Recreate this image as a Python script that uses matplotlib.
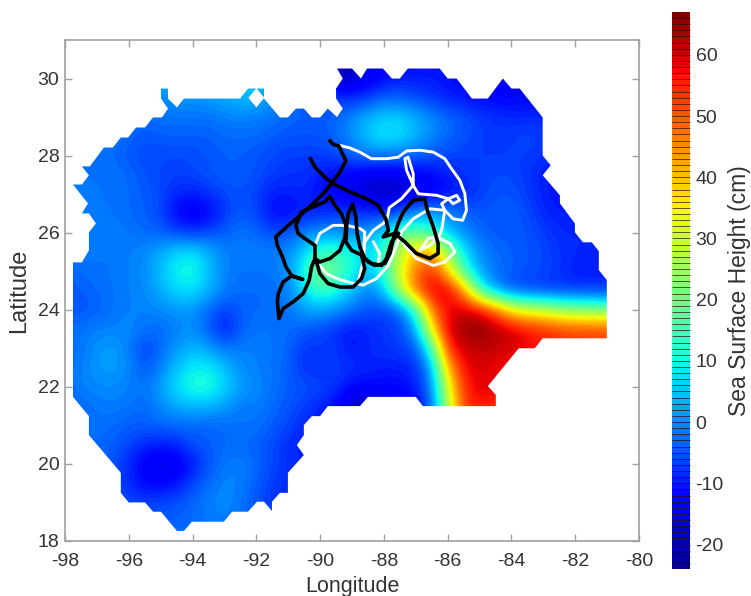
import numpy as np
import matplotlib
matplotlib.use("Agg")
import matplotlib.pyplot as plt
from matplotlib.colors import BoundaryNorm
from matplotlib.patches import PathPatch
from matplotlib.path import Path

plt.rcParams["font.family"] = ["Liberation Sans", "DejaVu Sans"]
plt.rcParams["axes.unicode_minus"] = False

# sea surface height (cm), 0.5 degree steps
grid_lons = np.arange(-98, -80.5, 0.5)
grid_lats = np.arange(30.5, 17.5, -0.5)
ssh = [
    [-2,-2,-2,-2,-2,-2,-1,0,1,1,2,3,2,0,-3,-8, -14,-20,-20,-16,-14,-13,-12,-12,-12, -12,-12,-12,-12,-12,-12,-12,-12,-12,-12],  # 30.5
    [-2,-2,-2,-2,-2,-1,5,5,2,3,4,6,6,0,-3,-8, -14,-19,-18,-15,-12,-10,-10,-10,-11, -12,-12,-12,-12,-12,-12,-12,-12,-12,-12],  # 30
    [-2,-2,-2,-2,-2,-1,0,1,1,2,3,4,4,1,-2,-5, -7,-8,-9,-7,-4,-4,-6,-8,-10, -11,-12,-13,-13,-12,-12,-12,-12,-12,-12],  # 29.5
    [-2,-2,-2,-2,-3,-3,-2,-2,-2,-2,-1,0,-1,-2,-3,-4, -4,-3,0,4,6,6,3,0,-3, -5,-7,-8,-9,-9,-9,-9,-9,-9,-9],  # 29
    [-2,-2,-2,-2,-3,-5,-4,-4,-4,-4,-3,-3,-3,-4,-5,-5, -5,-3,1,6,9,8,4,0,-3, -5,-7,-8,-7,-6,-7,-8,-8,-8,-8],  # 28.5
    [-2,-2,-2,-3,-5,-6,-6,-6,-6,-5,-4,-4,-5,-6,-7,-7, -7,-6,-3,-1,-1,-2,-3,-5,-6, -7,-7,-7,-7,-7,-8,-9,-9,-9,-9],  # 28
    [-2,-2,-2,-2,-3,-5,-6,-7,-6,-5,-4,-4,-5,-7,-8,-8, -10,-12,-14,-16,-16,-15,-14,-12,-10, -8,-7,-6,-6,-8,-10,-10,-10,-10,-10],  # 27.5
    [-2,-2,-2,-2,-3,-4,-6,-9,-10,-8,-6,-5,-7,-10,-10,-9, -12,-13,-15,-17,-19,-18,-16,-14,-12, -9,-7,-5,-5,-7,-10,-11,-11,-11,-11],  # 27
    [-1,-1,-2,-2,-3,-4,-6,-13,-15,-13,-8,-4,-6,-12,-12,-10, -9,-8,-8,-9,-9,-4,1,3,0, -3,-5,-4,-4,-6,-9,-10,-10,-10,-10],  # 26.5
    [-2,-1,-1,-1,-2,-3,-4,-6,-8,-6,-4,-2,-3,-6,-5,-1, 1,1,0,2,7,18,17,12,5, 0,-3,-5,-4,-5,-7,-9,-9,-9,-9],  # 26
    [-1,-1,-2,-2,-1,0,3,7,8,4,-1,-1,-1,-1,0,6, 14,14,10,8,13,30,40,44,24, 8,0,-3,-4,-5,-6,-8,-9,-9,-9],  # 25.5
    [-4,-3,-2,-2,-1,0,5,10,11,5,-1,-2,-2,-2,1,12, 23,19,10,4,13,32,48,54,38, 13,2,-2,-4,-5,-6,-8,-10,-10,-10],  # 25
    [-5,-4,-3,-2,-1,0,3,7,8,4,-1,-3,-3,-3,-1,8, 15,11,5,-1,6,28,50,60,60, 44,12,0,-6,-7,-8,-8,-8,-8,-8],  # 24.5
    [-5,-5,-4,-2,-1,-1,0,1,1,-3,-7,-4,-3,-3,-2,2, 3,1,-2,-5,-6,-3,14,48,58, 60,58,48,35,30,28,24,22,21,20],  # 24
    [-3,-2,-1,-1,0,-2,-3,-1,0,-4,-11,-4,-2,-2,-3,-4, -6,-8,-11,-9,-8,-6,3,37,60, 65,66,63,60,57,55,53,52,52,52],  # 23.5
    [-3,-2,1,2,-1,-7,-3,1,4,2,-2,-1,-1,-2,-3,-8, -7,-8,-11,-9,-8,-7,-5,15,55, 60,62,61,60,58,55,54,53,53,53],  # 23
    [-3,-1,1,2,0,-5,-1,5,9,9,5,0,-1,-2,-4,-9, -8,-7,-8,-9,-10,-10,-8,3,42, 58,59,58,56,55,54,54,54,54,54],  # 22.5
    [-3,-1,0,0,-1,-2,2,8,12,12,7,2,0,-2,-4,-5, -6,-8,-12,-12,-12,-12,-10,0,32, 55,60,58,56,55,54,54,54,54,54],  # 22
    [-4,-3,-2,-1,-2,-3,0,3,4,4,2,-2,-1,-3,-5,-7, -9,-12,-19,-19,-17,-15,-13,-2,28, 53,56,55,55,55,55,55,55,55,55],  # 21.5
    [-4,-3,-2,-3,-4,-4,-3,-3,-3,-4,-3,-2,-2,-4,-6,-9, -11,-14,-14,-14,-14,-14,-14,-5,25, 50,50,50,50,50,50,50,50,50,50],  # 21
    [-4,-4,-3,-4,-6,-9,-10,-9,-5,-4,-3,-3,-4,-6,-9,-10, -10,-10,-10,-10,-10,-10,-10,-10,-10, -10,-10,-10,-10,-10,-10,-10,-10,-10,-10],  # 20.5
    [-4,-4,-3,-5,-9,-14,-16,-15,-11,-5,-2,-1,-3,-6,-8,-9, -9,-9,-9,-9,-9,-9,-9,-9,-9, -9,-9,-9,-9,-9,-9,-9,-9,-9,-9],  # 20
    [-4,-4,-4,-5,-9,-12,-13,-11,-6,-3,0,-1,-4,-7,-9,-9, -9,-9,-9,-9,-9,-9,-9,-9,-9, -9,-9,-9,-9,-9,-9,-9,-9,-9,-9],  # 19.5
    [-4,-4,-4,-5,-6,-7,-6,-5,-3,-1,0,-2,-5,-8,-9,-9, -9,-9,-9,-9,-9,-9,-9,-9,-9, -9,-9,-9,-9,-9,-9,-9,-9,-9,-9],  # 19
    [-3,-3,-3,-3,-4,-4,-4,-4,-3,-2,-1,-2,-4,-6,-7,-7, -7,-7,-7,-7,-7,-7,-7,-7,-7, -7,-7,-7,-7,-7,-7,-7,-7,-7,-7],  # 18.5
    [-2,-2,-2,-2,-2,-2,-2,-2,-2,-2,-2,-2,-2,-2,-2,-4, -4,-4,-4,-4,-4,-4,-4,-4,-4, -4,-4,-4,-4,-4,-4,-4,-4,-4,-4],  # 18
]

# edge of the mapped area
edge_lon = [-89.47,-89.0,-88.72,-88.53,-88.03,-87.75,-87.5,-87.25,-86.25,-86.0,-85.72,-85.24,-84.74,-84.27,-84.0,-83.74,
            -83.02,-83.02,-82.77,-83.02,-82.48,-82.48,-82.01,-82.01,-81.76,-81.48,-81.26,-81.26,-81.01,-81.01,-83.02,-83.27,
            -83.77,-84.74,-84.49,-84.49,-86.78,-87.0,-88.5,-88.75,-89.76,-90.0,-90.26,-90.51,-90.51,-90.73,-90.51,-91.01,
            -91.01,-91.26,-91.51,-91.51,-91.76,-91.98,-92.26,-92.76,-93.02,-94.02,-94.27,-94.49,-94.99,-95.24,-95.49,-96.0,
            -96.25,-96.25,-97.25,-97.25,-97.75,-97.75,-97.47,-97.25,-97.25,-97.03,-97.25,-97.47,-97.28,-97.75,-97.47,-97.25,
            -97.47,-97.22,-96.78,-96.5,-96.25,-96.02,-95.77,-95.49,-95.24,-94.96,-94.77,-94.99,-94.99,-94.77,-94.77,-94.49,
            -94.27,-92.51,-92.26,-91.76,-91.76,-91.26,-91.01,-90.76,-90.51,-90.26,-90.0,-89.76,-89.47,-89.29,-89.5,-89.5,-89.29]
edge_lat = [30.26,30.26,30.0,30.26,30.26,30.0,30.0,30.26,30.26,30.0,30.0,29.48,29.48,30.0,29.74,29.74,
            28.99,28.0,27.75,27.49,26.97,26.76,26.24,26.01,25.75,25.75,25.52,25.03,24.77,23.26,23.26,23.0,
            23.0,22.02,21.79,21.5,21.5,21.74,21.74,21.5,21.5,21.24,21.24,21.01,20.75,20.49,20.23,19.77,
            19.25,19.25,19.02,18.78,19.02,19.02,18.76,18.76,18.5,18.5,18.26,18.26,18.76,18.76,19.0,19.0,
            19.25,19.77,20.75,21.24,21.74,25.23,25.23,25.54,26.01,26.24,26.5,26.5,26.76,27.25,27.25,27.49,
            27.72,27.72,28.21,28.21,28.47,28.47,28.73,28.73,28.99,28.99,29.22,29.48,29.74,29.74,29.48,29.25,
            29.48,29.48,29.74,29.74,29.48,28.99,28.99,29.22,29.22,28.99,28.99,29.22,29.0,29.22,29.48,29.74,30.0]
hole_lon = [-92.0, -92.25, -92.0, -91.75]
hole_lat = [29.75, 29.5, 29.25, 29.5]

# drifter tracks
black_lon = [-89.69,-89.59,-89.41,-89.30,-89.19,-89.38,-89.61,-89.85,-90.22,-90.63,-91.05,-91.39,-91.34,-91.18,-91.07,-90.89,-90.55,
             -90.89,-91.16,-91.31,-91.34,-91.29,-91.16,-90.84,-90.53,-90.34,-90.27,-90.16,-90.16,-90.48,-90.69,-90.76,-90.58,-90.22,
             -89.85,-89.69,-89.54,-89.33,-89.19,-89.22,-89.38,-89.69,-90.01,-90.16,-90.11,-90.01,-89.75,-89.38,-88.96,-88.70,-88.60,
             -88.70,-89.01,-89.19,-89.17,-89.12,-88.98,-88.88,-88.84,-88.75,-88.60,-88.39,-88.07,-87.92,-87.76,-87.55]
black_lat = [28.38,28.29,28.25,28.05,27.86,27.57,27.31,27.06,26.75,26.45,26.15,25.89,25.67,25.37,25.11,24.88,24.79,
             24.88,24.72,24.42,24.21,23.77,24.03,24.21,24.42,24.77,25.11,25.33,25.67,25.85,25.98,26.19,26.54,26.67,
             26.80,26.94,26.71,26.49,26.19,25.89,25.54,25.33,25.24,25.33,25.24,24.94,24.68,24.59,24.59,24.81,25.07,
             25.42,25.54,25.76,26.15,26.49,26.74,26.41,25.98,25.63,25.33,25.20,25.15,25.33,25.76,25.98]
black2_lon = [-90.30,-90.16,-89.85,-89.59,-89.07,-88.54,-88.18,-87.94,-87.86,-88.02,-87.66,-87.34,-86.98,-86.56,-86.30,-86.30,-86.45,
              -86.64,-86.72,-87.08,-87.39,-87.55,-87.69,-87.81,-87.97,-88.28,-88.49,-88.70]
black2_lat = [27.92,27.70,27.44,27.27,27.06,26.88,26.71,26.36,26.06,25.89,25.98,25.76,25.46,25.33,25.46,25.72,26.15,
              26.58,26.88,26.84,26.54,26.24,25.89,25.46,25.20,25.15,25.24,25.42]
white_lon = [-89.36,-89.07,-88.75,-88.39,-87.92,-87.55,-87.29,-86.87,-86.45,-86.09,-85.88,-85.62,-85.46,-85.41,-85.53,-85.83,-86.09,
             -86.19,-85.98,-85.72,-85.62,-85.83,-85.98,-86.35,-86.92,-87.08,-87.29,-87.34,-87.24,-87.08,-87.08,-87.45,-87.83,-87.90,
             -88.02,-88.33,-88.60,-88.65]
white_lat = [28.26,28.20,28.09,27.92,27.92,27.96,28.12,28.14,28.09,27.92,27.66,27.36,27.01,26.58,26.32,26.36,26.58,
             26.75,26.88,26.97,26.84,26.75,26.88,26.97,27.01,27.23,27.62,27.92,27.96,27.53,27.23,26.88,26.65,26.36,
             26.24,26.06,25.76,25.24]
white2_lon = [-90.16,-90.01,-89.59,-89.17,-88.75,-88.60,-88.60,-88.65,-88.81]
white2_lat = [25.67,25.98,26.19,26.19,26.11,26.02,26.02,25.24,24.72]
white3_lon = [-90.06,-89.80,-89.48,-89.12,-88.65,-88.23,-87.86,-87.66,-87.45,-87.08,-86.56,-86.09,-86.19,-86.30]
white3_lat = [25.20,24.94,24.81,24.72,24.64,24.81,25.15,25.54,26.02,26.36,26.62,26.58,26.06,25.85]
white4_lon = [-87.39,-86.98,-86.45,-86.09,-85.77,-85.93,-86.35,-86.61,-86.87,-86.56,-86.35]
white4_lat = [25.72,25.33,25.15,25.24,25.50,25.72,25.89,25.85,25.54,25.67,25.85]
white5_lon = [-88.33,-88.13,-88.18]
white5_lat = [25.76,25.46,25.20]

lon_ticks = [-98, -96, -94, -92, -90, -88, -86, -84, -82, -80]
lat_ticks = [18, 20, 22, 24, 26, 28, 30]
bar_ticks = [-20, -10, 0, 10, 20, 30, 40, 50, 60]

text_color = "#333333"
box_color = "#a0a0a0"

fig = plt.figure(figsize=(7.51, 5.96), dpi=100)
ax = fig.add_axes([65 / 751, 1 - 541 / 596, (639 - 65) / 751, (541 - 40) / 596])
cax = fig.add_axes([672 / 751, 1 - 569 / 596, 18 / 751, (569 - 12) / 596])

levels = np.arange(-24, 68, 1)
cmap = plt.get_cmap("jet", len(levels) - 1)
norm = BoundaryNorm(levels, cmap.N)

im = ax.imshow(np.array(ssh, dtype=float), cmap=cmap, norm=norm, aspect="auto", origin="upper",
               extent=[grid_lons[0] - 0.25, grid_lons[-1] + 0.25, grid_lats[-1] - 0.25, grid_lats[0] + 0.25],
               interpolation="bicubic", interpolation_stage="data")

# clip the field to the mapped area
verts = list(zip(edge_lon, edge_lat)) + [(edge_lon[0], edge_lat[0])]
codes = [Path.MOVETO] + [Path.LINETO] * (len(verts) - 2) + [Path.CLOSEPOLY]
hole = list(zip(hole_lon, hole_lat)) + [(hole_lon[0], hole_lat[0])]
verts += hole
codes += [Path.MOVETO] + [Path.LINETO] * (len(hole) - 2) + [Path.CLOSEPOLY]
im.set_clip_path(PathPatch(Path(verts, codes), transform=ax.transData))

for x, y in [(white_lon, white_lat), (white2_lon, white2_lat), (white3_lon, white3_lat),
             (white4_lon, white4_lat), (white5_lon, white5_lat)]:
    ax.plot(x, y, color="white", lw=2.1, solid_joinstyle="round")
for x, y in [(black_lon, black_lat), (black2_lon, black2_lat)]:
    ax.plot(x, y, color="black", lw=2.6, solid_joinstyle="round")

ax.set_xlim(-98, -80)
ax.set_ylim(18, 31)
ax.set_xticks(lon_ticks)
ax.set_yticks(lat_ticks)
ax.tick_params(direction="in", top=True, right=True, length=5, width=1, color=box_color,
               labelsize=14, labelcolor=text_color, pad=4)
ax.tick_params(axis="x", pad=9)
for spine in ax.spines.values():
    spine.set_color(box_color)
    spine.set_linewidth(1.2)
ax.set_xlabel("Longitude", fontsize=15.5, color=text_color, labelpad=4)
ax.set_ylabel("Latitude", fontsize=17, color=text_color, labelpad=5)

cb = fig.colorbar(im, cax=cax, drawedges=True, spacing="proportional")
cb.dividers.set_color("#301010")
cb.dividers.set_linewidth(0.5)
cb.outline.set_visible(False)
cb.set_ticks(bar_ticks)
cb.ax.minorticks_off()
cb.ax.tick_params(length=0, labelsize=14, labelcolor=text_color, pad=4)
cb.set_label("Sea Surface Height (cm)", fontsize=16.5, color=text_color, va="center")
cb.ax.yaxis.set_label_coords(3.75, 0.5)

fig.savefig("out.png", dpi=100)
plt.close(fig)
